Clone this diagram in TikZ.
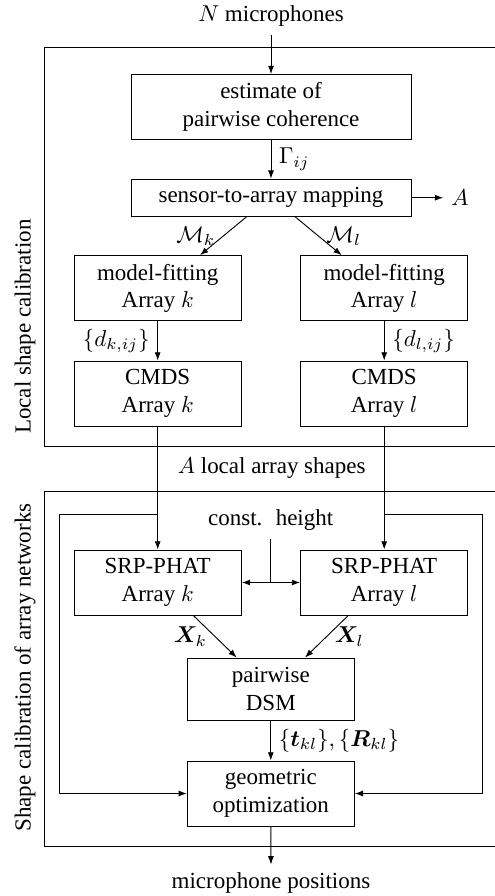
\documentclass[tikz,border=0pt]{standalone}
\usepackage{fontspec}
\setmainfont{Liberation Serif}
\usepackage{bm}
\usetikzlibrary{arrows.meta,calc}
\def\pxu{0.435pt}
\begin{document}
\begin{tikzpicture}[x=\pxu, y=-\pxu, line width=0.4pt,
  blk/.style={draw, align=center, inner sep=0pt, minimum height=65*\pxu},
  wideblk/.style={blk, minimum width=280*\pxu},
  arrblk/.style={blk, minimum width=167.3*\pxu},
  arr/.style={-{Latex[length=3.6pt,width=2.6pt]}},
  darr/.style={{Latex[length=3.6pt,width=2.6pt]}-{Latex[length=3.6pt,width=2.6pt]}}]
\useasboundingbox (0,0) rectangle (494,896);

% frames of the two stages (open to the right)
\draw (500,47) -| (44.3,446) -- (500,446);
\draw (500,491.7) -| (44.3,846) -- (500,846);
\node[rotate=90] (lblA) at (25,326.7) {Local shape calibration};
\node[rotate=90] (lblB) at (25,667.5) {Shape calibration of array networks};

% blocks
\node[wideblk] (est) at (271,107) {estimate of\\pairwise coherence};
\node[wideblk, minimum height=37*\pxu] (map) at (271,197.7) {sensor-to-array mapping};
\node[arrblk] (mfk) at (157.7,288.2) {model-fitting\\Array $k$};
\node[arrblk] (mfl) at (384.2,288.2) {model-fitting\\Array $l$};
\node[arrblk] (cmk) at (157.7,393.5) {CMDS\\Array $k$};
\node[arrblk] (cml) at (384.2,393.5) {CMDS\\Array $l$};
\node[arrblk] (srk) at (157.7,582.5) {SRP-PHAT\\Array $k$};
\node[arrblk] (srl) at (384.2,582.5) {SRP-PHAT\\Array $l$};
\node[blk, minimum width=167*\pxu, minimum height=62*\pxu] (dsm) at (270.8,689) {pairwise\\DSM};
\node[blk, minimum width=167*\pxu] (geo) at (270.8,793.5) {geometric\\optimization};

% free texts
\node[anchor=base] (nmic) at (271,21.7) {$N$ microphones};
\node (outA) at (460,197.7) {$A$};
\node (las) at (271.7,467.7) {$A$ local array shapes};
\node (cst) at (270.7,520) {const.\hspace{0.58em}height};
\node (mpos) at (271,883) {microphone positions};

% connectors
\draw[arr] (nmic) -- (est);
\draw[arr] (est) -- node[right] {$\Gamma_{ij}$} (map);
\draw[arr] (map) -- (outA);
\draw[arr] ([xshift=-24.3*\pxu]map.south) -- node[left] {$\mathcal{M}_k$} ([xshift=42.3*\pxu]mfk.north);
\draw[arr] ([xshift=24*\pxu]map.south) -- node[right] {$\mathcal{M}_l$} ([xshift=-42.5*\pxu]mfl.north);
\draw[arr] (mfk) -- node[left] {$\{d_{k,ij}\}$} (cmk);
\draw[arr] (mfl) -- node[right] {$\{d_{l,ij}\}$} (cml);
\draw[arr] (cmk) -- (srk);
\draw[arr] (cml) -- (srl);

\coordinate (fbl) at (157.7,514.3);
\coordinate (fbr) at (384.2,514.3);
\draw[arr] (fbl) -- (59.3,514.3) |- (geo.west);
\draw[arr] (fbr) -- (482.3,514.3) |- (geo.east);

\coordinate (hj) at (cst |- srk.east);
\draw (cst) -- (hj);
\draw[darr] (srk) -- (srl);

\draw[arr] ([xshift=35.6*\pxu]srk.south) -- node[left] {$\bm{X}_k$} ([xshift=-34.1*\pxu]dsm.north);
\draw[arr] ([xshift=-35.9*\pxu]srl.south) -- node[right] {$\bm{X}_l$} ([xshift=34.2*\pxu]dsm.north);
\draw[arr] (dsm) -- node[right] {$\{\bm{t}_{kl}\},\{\bm{R}_{kl}\}$} (geo);
\draw[arr] (geo) -- (mpos);
\end{tikzpicture}
\end{document}
